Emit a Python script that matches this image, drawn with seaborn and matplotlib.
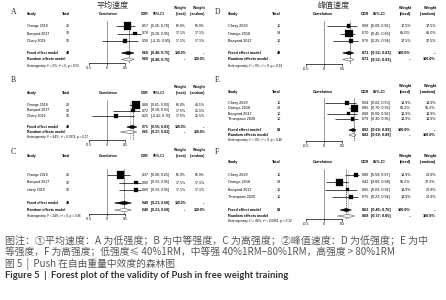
import numpy as np
import pandas as pd
import matplotlib
matplotlib.use("Agg")
import matplotlib.pyplot as plt
import seaborn as sns

sns.set_theme(style="white")
NARROW = ['Liberation Sans Narrow', 'Liberation Sans', 'DejaVu Sans']
CJK = ['Noto Sans CJK SC', 'DejaVu Sans']
plt.rcParams['font.family'] = NARROW

# ---------------- data ----------------
titles = ["平均速度", "峰值速度"]
panel_labels = ["A", "B", "C", "D", "E", "F"]

a_study = ["Orange 2018", "Banyard 2017", "Chery 2019"]
a_total = [29, 10, 10]
a_cor = [0.57, 0.78, 0.50]
a_lo = [0.26, 0.28, -0.15]
a_hi = [0.78, 0.95, 0.85]
a_wf = [65.9, 17.1, 17.1]
a_wr = [65.9, 17.1, 17.1]
a_fixed = [0.60, 0.40, 0.75]
a_random = [0.60, 0.40, 0.75]
a_het = "Heterogeneity: I² = 0%, τ² = 0, p = 0.55"

b_study = ["Orange 2018", "Banyard 2017", "Chery 2019"]
b_total = [29, 10, 10]
b_cor = [0.80, 0.72, 0.25]
b_lo = [0.61, 0.18, -0.42]
b_hi = [0.90, 0.93, 0.76]
b_wf = [65.0, 17.5, 17.5]
b_wr = [49.1, 25.5, 25.5]
b_fixed = [0.71, 0.55, 0.83]
b_random = [0.65, 0.37, 0.83]
b_het = "Heterogeneity: I² = 44%, τ² = 0.0374, p = 0.17"

c_study = ["Orange 2018", "Banyard 2017", "chery 2019"]
c_total = [29, 10, 10]
c_cor = [0.37, 0.80, 0.80]
c_lo = [0.00, 0.33, 0.33]
c_hi = [0.65, 0.95, 0.95]
c_wf = [65.9, 17.1, 17.1]
c_wr = [65.9, 17.1, 17.1]
c_fixed = [0.48, 0.21, 0.68]
c_random = [0.48, 0.21, 0.68]
c_het = "Heterogeneity: I² = 24%, τ² = 0, p = 0.46"

d_study = ["Chery 2019", "Orange 2018", "Banyard 2017"]
d_total = [10, 29, 10]
d_cor = [0.68, 0.70, 0.76]
d_lo = [0.09, 0.45, 0.25]
d_hi = [0.92, 0.85, 0.94]
d_wf = [17.5, 65.0, 17.5]
d_wr = [17.5, 65.0, 17.5]
d_fixed = [0.71, 0.52, 0.83]
d_random = [0.71, 0.52, 0.83]
d_het = "Heterogeneity: I² = 0%, τ² = 0, p = 0.94"

e_study = ["Chery 2019", "Orange 2018", "Banyard 2017", "Thompson 2020"]
e_total = [10, 29, 10, 10]
e_cor = [0.64, 0.85, 0.68, 0.79]
e_lo = [0.02, 0.70, 0.09, 0.30]
e_hi = [0.90, 0.93, 0.92, 0.95]
e_wf = [14.9, 55.2, 14.9, 14.9]
e_wr = [14.9, 55.2, 14.9, 14.9]
e_fixed = [0.82, 0.69, 0.89]
e_random = [0.82, 0.69, 0.89]
e_het = "Heterogeneity: I² = 0%, τ² = 0, p = 0.46"

f_study = ["Chery 2019", "Orange 2018", "Banyard 2017", "Thompson 2020"]
f_total = [10, 29, 10, 10]
f_cor = [0.89, 0.42, 0.65, 0.75]
f_lo = [0.59, 0.06, 0.03, 0.23]
f_hi = [0.97, 0.68, 0.91, 0.94]
f_wf = [14.9, 55.2, 14.9, 14.9]
f_wr = [20.9, 37.2, 20.9, 20.9]
f_fixed = [0.62, 0.45, 0.76]
f_random = [0.68, 0.37, 0.85]
f_het = "Heterogeneity: I² = 49%, τ² = 0.0961, p = 0.12"

tick_vals = [-0.5, 0, 0.5]
tick_labels = ["-0.5", "0", "0.5"]

caption = [
    "图注：①平均速度：A 为低强度；B 为中等强度，C 为高强度；②峰值速度：D 为低强度；E 为中",
    "等强度，F 为高强度；低强度≤ 40%1RM，中等强 40%1RM–80%1RM，高强度 > 80%1RM",
    "图 5  |  Push 在自由重量中效度的森林图",
    "Figure 5  |  Forest plot of the validity of Push in free weight training",
]

panels = [
    (a_study, a_total, a_cor, a_lo, a_hi, a_wf, a_wr, a_fixed, a_random, a_het),
    (b_study, b_total, b_cor, b_lo, b_hi, b_wf, b_wr, b_fixed, b_random, b_het),
    (c_study, c_total, c_cor, c_lo, c_hi, c_wf, c_wr, c_fixed, c_random, c_het),
    (d_study, d_total, d_cor, d_lo, d_hi, d_wf, d_wr, d_fixed, d_random, d_het),
    (e_study, e_total, e_cor, e_lo, e_hi, e_wf, e_wr, e_fixed, e_random, e_het),
    (f_study, f_total, f_cor, f_lo, f_hi, f_wf, f_wr, f_fixed, f_random, f_het),
]

# ---------------- layout (pixels) ----------------
W, H = 446, 300
COLS_L = dict(letter_x=11, study_x=27, total_r=70, corr_c=108, zero=107, scale=36,
              cor_r=149, ci_l=151, wf_r=186, wr_r=205, fs=2.5, title_x=113)
COLS_R = dict(letter_x=215, study_x=228, total_r=281, corr_c=323, zero=324, scale=36,
              cor_r=369, ci_l=371, wf_r=411, wr_r=436, fs=2.7, title_x=333)
ROWS = [
    dict(letter_y=12, wt_y=7.5, hdr_y=14, row0=26, step=7.5, fixed_y=53, random_y=59.5, het_y=66, axis_y=63, top=21),
    dict(letter_y=80, wt_y=87, hdr_y=93, row0=105, step=5.5, fixed_y=127, random_y=132, het_y=137, axis_y=140, top=100),
    dict(letter_y=152, wt_y=150, hdr_y=156, row0=175, step=7.5, fixed_y=203, random_y=210, het_y=216, axis_y=214, top=169),
    dict(letter_y=12, wt_y=7.5, hdr_y=14, row0=26, step=7.5, fixed_y=53, random_y=59.5, het_y=66, axis_y=64, top=21),
    dict(letter_y=80, wt_y=86, hdr_y=92, row0=103, step=5.3, fixed_y=130, random_y=135, het_y=140, axis_y=141, top=98),
    dict(letter_y=152, wt_y=156, hdr_y=162, row0=175, step=7.3, fixed_y=210, random_y=216, het_y=221, axis_y=219, top=169),
]

fig = plt.figure(figsize=(W / 100, H / 100), dpi=100)
fig.patch.set_facecolor("white")
ov = fig.add_axes([0, 0, 1, 1])
ov.set_xlim(0, W)
ov.set_ylim(H, 0)
ov.axis("off")


def diamond(ax, est, lo, hi, y, h, fc, ec):
    ax.fill([lo, est, hi, est], [y, y - h, y, y + h], facecolor=fc, edgecolor=ec, lw=0.4, zorder=4)


for i, (study, total, cor, lo, hi, wf, wr, fixed, random, het) in enumerate(panels):
    C = COLS_L if i < 3 else COLS_R
    R = ROWS[i]
    fs = C["fs"]
    n = len(study)
    ys = [R["row0"] + k * R["step"] for k in range(n)]

    ov.text(C["letter_x"], R["letter_y"], panel_labels[i], family="Liberation Serif",
            fontsize=5.6, color="#222222", va="center", ha="left")
    if i in (0, 3):
        ov.text(C["title_x"], 5.5, titles[i // 3], family=CJK, fontsize=5.8,
                color="#333333", ha="center", va="center")

    kw = dict(fontsize=fs, va="center", fontweight="bold", color="black")
    ov.text(C["wf_r"], R["wt_y"], "Weight", ha="right", **kw)
    ov.text(C["wr_r"], R["wt_y"], "Weight", ha="right", **kw)
    ov.text(C["study_x"], R["hdr_y"], "Study", ha="left", **kw)
    ov.text(C["total_r"], R["hdr_y"], "Total", ha="right", **kw)
    ov.text(C["corr_c"], R["hdr_y"], "Correlation", ha="center", **kw)
    ov.text(C["cor_r"], R["hdr_y"], "COR", ha="right", **kw)
    ov.text(C["ci_l"] + 8, R["hdr_y"], "95%-CI", ha="center", **kw)
    ov.text(C["wf_r"], R["hdr_y"], "(fixed)", ha="right", **kw)
    ov.text(C["wr_r"], R["hdr_y"], "(random)", ha="right", **kw)

    kr = dict(fontsize=fs, va="center", color="black")
    for k in range(n):
        y = ys[k]
        ov.text(C["study_x"], y, study[k], ha="left", **kr)
        ov.text(C["total_r"], y, f"{total[k]}", ha="right", **kr)
        ov.text(C["cor_r"], y, f"{cor[k]:.2f}", ha="right", **kr)
        ov.text(C["ci_l"], y, f"[{lo[k]:.2f}; {hi[k]:.2f}]", ha="left", **kr)
        ov.text(C["wf_r"], y, f"{wf[k]:.1f}%", ha="right", **kr)
        ov.text(C["wr_r"], y, f"{wr[k]:.1f}%", ha="right", **kr)

    kb = dict(fontsize=fs, va="center", color="black", fontweight="bold")
    for y, name, est, tot, wfx, wrx in [
        (R["fixed_y"], "Fixed effect model", fixed, sum(total), "100.0%", "--"),
        (R["random_y"], "Random effects model", random, None, "--", "100.0%"),
    ]:
        ov.text(C["study_x"], y, name, ha="left", **kb)
        if tot is not None:
            ov.text(C["total_r"], y, f"{tot}", ha="right", **kb)
        ov.text(C["cor_r"], y, f"{est[0]:.2f}", ha="right", **kb)
        ov.text(C["ci_l"], y, f"[{est[1]:.2f}; {est[2]:.2f}]", ha="left", **kb)
        ov.text(C["wf_r"], y, wfx, ha="right", **kb)
        ov.text(C["wr_r"], y, wrx, ha="right", **kb)
    ov.text(C["study_x"], R["het_y"], het, ha="left", fontsize=fs * 0.85, va="center", color="black")

    xl, xr = -0.62, 1.0
    left_px = C["zero"] + xl * C["scale"]
    width_px = (xr - xl) * C["scale"]
    ax = fig.add_axes([left_px / W, 1 - R["axis_y"] / H, width_px / W, (R["axis_y"] - R["top"]) / H])
    ax.set_facecolor("none")
    df = pd.DataFrame(dict(cor=cor, lo=lo, hi=hi, wf=wf, y=ys))
    ax.axvline(0, color="#888888", lw=0.6, zorder=1)
    ax.axvline(fixed[0], color="black", lw=0.4, ls=(0, (2.5, 1.5)), zorder=1)
    ax.axvline(random[0], color="#777777", lw=0.4, ls=(0, (1, 1)), zorder=1)
    ax.hlines(df["y"], df["lo"], df["hi"], color="black", lw=0.5, zorder=2)
    sns.scatterplot(data=df, x="cor", y="y", size="wf", sizes=(0, 45), size_norm=(0, 100),
                    marker="s", color="black", edgecolor="black", linewidth=0.2,
                    legend=False, ax=ax, zorder=3)
    diamond(ax, fixed[0], fixed[1], fixed[2], R["fixed_y"], 1.6, "black", "black")
    diamond(ax, random[0], random[1], random[2], R["random_y"], 1.6, "white", "#555555")
    ax.set_xlim(xl, xr)
    ax.set_ylim(R["axis_y"], R["top"])
    for s in ("top", "right", "left"):
        ax.spines[s].set_visible(False)
    ax.spines["bottom"].set_visible(True)
    ax.spines["bottom"].set_color("black")
    ax.spines["bottom"].set_linewidth(0.5)
    ax.spines["bottom"].set_bounds(-0.5, 0.5)
    ax.set_xticks(tick_vals)
    ax.set_xticklabels(tick_labels)
    ax.set_yticks([])
    ax.set_xlabel("")
    ax.set_ylabel("")
    ax.tick_params(axis="x", bottom=True, length=1.5, width=0.5, pad=1, labelsize=fs, colors="black")
    ax.grid(False)
    for sp in ax.spines.values():
        sp.set_zorder(5)
    for coll in ax.collections:
        coll.set_clip_on(False)

ov.text(5, 241, caption[0], family=CJK, fontsize=7.2, color="#555555", ha="left", va="center")
ov.text(5, 252.5, caption[1], family=CJK, fontsize=7.0, color="#555555", ha="left", va="center")
ov.text(5, 264, caption[2], family=CJK, fontsize=7.0, color="#555555", ha="left", va="center")
ov.text(5, 275.5, caption[3], family=['Lato', 'DejaVu Sans'], fontsize=6.8, fontweight="bold",
        color="#333333", ha="left", va="center")

fig.savefig("out.png", dpi=100, facecolor="white")
